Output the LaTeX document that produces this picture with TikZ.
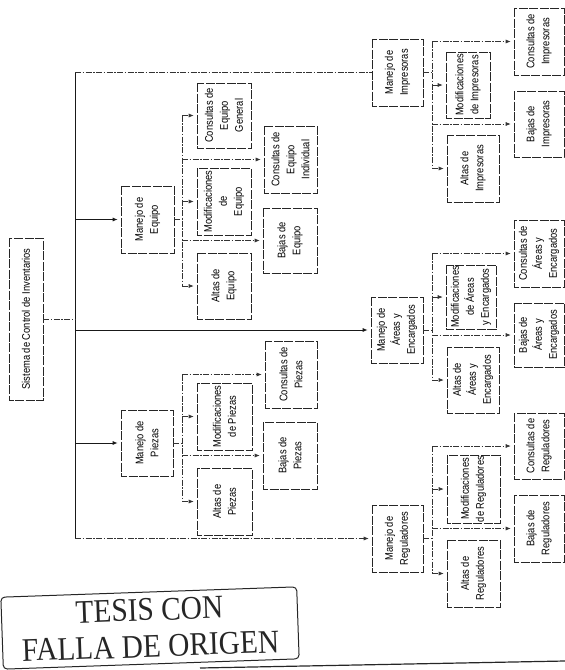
\documentclass[tikz,border=0pt]{standalone}
\usepackage{fontspec}
\usetikzlibrary{arrows.meta}
\newfontfamily\narrowsans[FakeStretch=0.85]{Liberation Sans}
\newfontfamily\stampserif[FakeStretch=0.89]{Liberation Serif}
\newcommand{\boxfont}{\narrowsans\fontsize{11}{15}\selectfont}
\newcommand{\stampfont}{\stampserif\fontsize{33}{36.5}\selectfont}

\begin{document}
\begin{tikzpicture}[x=1pt,y=-1pt,
  bx/.style={draw=black!85, rotate=90, align=center, inner sep=1pt,
    font=\boxfont, line width=0.6pt, dash pattern=on 9pt off 1.5pt},
  trunk/.style={draw=black!90, line width=0.9pt},
  link/.style={draw=black!80, line width=0.6pt,
    dash pattern=on 6pt off 1.5pt on 1.5pt off 1.5pt},
  arr/.style={-{Latex[length=5pt,width=4pt]}, shorten >=3pt},
  stampbox/.style={draw=black!85, line width=1pt, rounded corners=4pt, rotate=2,
    font=\stampfont, align=center, text=black!85},
]
\useasboundingbox (0,0) rectangle (565,670);

% root
\node[bx, minimum width=162pt, minimum height=34pt] (root) at (26,319) {Sistema de Control de Inventarios};

% Manejo de Equipo
\node[bx, minimum width=67pt, minimum height=53pt] (meq) at (147.5,219.5) {Manejo de\\Equipo};
\node[bx, minimum width=65pt, minimum height=54pt] (ceg) at (224,115.5) {Consultas de\\Equipo\\General};
\node[bx, minimum width=67pt, minimum height=54pt] (mdeq) at (224,201.5) {Modificaciones\\de\\Equipo};
\node[bx, minimum width=66pt, minimum height=54pt] (aeq) at (224,286) {Altas de\\Equipo};
\node[bx, minimum width=67pt, minimum height=53pt] (cei) at (290.5,159.5) {Consultas de\\Equipo\\Individual};
\node[bx, minimum width=65pt, minimum height=54pt] (beq) at (290,240.5) {Bajas de\\Equipo};

% Manejo de Piezas
\node[bx, minimum width=66pt, minimum height=52pt] (mpz) at (147,443) {Manejo de\\Piezas};
\node[bx, minimum width=67pt, minimum height=52pt] (cpz) at (291,374.5) {Consultas de\\Piezas};
\node[bx, minimum width=67pt, minimum height=55pt] (mdpz) at (224.5,416.5) {Modificaciones\\de Piezas};
\node[bx, minimum width=67pt, minimum height=54pt] (bpz) at (290,455.5) {Bajas de\\Piezas};
\node[bx, minimum width=67pt, minimum height=55pt] (apz) at (224.5,501.5) {Altas de\\Piezas};

% Manejo de Impresoras
\node[bx, minimum width=67pt, minimum height=51pt] (mim) at (397.5,72.5) {Manejo de\\Impresoras};
\node[bx, minimum width=67pt, minimum height=50pt] (cim) at (539,41.5) {Consultas de\\Impresoras};
\node[bx, minimum width=66pt, minimum height=44pt] (mdim) at (468,85) {Modificaciones\\de Impresoras};
\node[bx, minimum width=66pt, minimum height=50pt] (bim) at (539,124) {Bajas de\\Impresoras};
\node[bx, minimum width=67pt, minimum height=52pt] (aim) at (473,168.5) {Altas de\\Impresoras};

% Manejo de Areas y Encargados
\node[bx, minimum width=66pt, minimum height=52pt] (mar) at (397,330) {Manejo de\\Áreas y\\Encargados};
\node[bx, minimum width=67pt, minimum height=50pt] (car) at (539,253.5) {Consultas de\\Áreas y\\Encargados};
\node[bx, minimum width=64pt, minimum height=50pt] (mdar) at (471,297) {Modificaciones\\de Áreas\\y Encargados};
\node[bx, minimum width=64pt, minimum height=50pt] (bar) at (539,335) {Bajas de\\Áreas y\\Encargados};
\node[bx, minimum width=66pt, minimum height=52pt] (aar) at (473,380) {Altas de\\Áreas y\\Encargados};

% Manejo de Reguladores
\node[bx, minimum width=67pt, minimum height=51pt] (mrg) at (397.5,538.5) {Manejo de\\Reguladores};
\node[bx, minimum width=66pt, minimum height=50pt] (crg) at (539,446) {Consultas de\\Reguladores};
\node[bx, minimum width=68pt, minimum height=53pt] (mdrg) at (473.5,489) {Modificaciones\\de Reguladores};
\node[bx, minimum width=67pt, minimum height=50pt] (brg) at (539,528.5) {Bajas de\\Reguladores};
\node[bx, minimum width=67pt, minimum height=53pt] (arg) at (473.5,573.5) {Altas de\\Reguladores};

% trunk from the root to the five modules
\coordinate (ttop) at (75,72.5);
\coordinate (tbot) at (75,538.5);
\draw[trunk] (ttop) -- (tbot);
\draw[link] (root.south) -- (root.south -| ttop);
\draw[link] (ttop) -- (mim.north);
\draw[trunk, arr] (ttop |- meq) -- (meq.north);
\draw[trunk, arr] (ttop |- mar) -- (mar.north);
\draw[trunk, arr] (ttop |- mpz) -- (mpz.north);
\draw[link, arr] (tbot) -- (mrg.north);

% Equipo branch
\coordinate (eqa) at (182,115.5);
\coordinate (eqb) at (182,286);
\draw[link] (eqa) -- (eqb);
\draw[link] (meq.south) -- (meq.south -| eqa);
\draw[link, arr] (eqa) -- (ceg.north);
\draw[link, arr] (eqa |- mdeq) -- (mdeq.north);
\draw[link, arr] (eqb) -- (aeq.north);
\draw[link, arr] (eqa |- cei) -- (cei.north);
\draw[link, arr] (eqa |- beq) -- (beq.north);

% Piezas branch
\coordinate (pza) at (182,374.5);
\coordinate (pzb) at (182,501.5);
\draw[link] (pza) -- (pzb);
\draw[link] (mpz.south) -- (mpz.south -| pza);
\draw[link, arr] (pza) -- (cpz.north);
\draw[link, arr] (pza |- mdpz) -- (mdpz.north);
\draw[link, arr] (pza |- bpz) -- (bpz.north);
\draw[link, arr] (pzb) -- (apz.north);

% Impresoras branch
\coordinate (ima) at (432,41.5);
\coordinate (imb) at (432,168.5);
\draw[link] (ima) -- (imb);
\draw[link] (mim.south) -- (mim.south -| ima);
\draw[link, arr] (ima) -- (cim.north);
\draw[link, arr] (ima |- mdim) -- (mdim.north);
\draw[link, arr] (ima |- bim) -- (bim.north);
\draw[link, arr] (imb) -- (aim.north);

% Areas branch
\coordinate (ara) at (432,253.5);
\coordinate (arb) at (432,380);
\draw[link] (ara) -- (arb);
\draw[link] (mar.south) -- (mar.south -| ara);
\draw[link, arr] (ara) -- (car.north);
\draw[link, arr] (ara |- mdar) -- (mdar.north);
\draw[link, arr] (ara |- bar) -- (bar.north);
\draw[link, arr] (arb) -- (aar.north);

% Reguladores branch
\coordinate (rga) at (432,446);
\coordinate (rgb) at (432,573.5);
\draw[link] (rga) -- (rgb);
\draw[link] (mrg.south) -- (mrg.south -| rga);
\draw[link, arr] (rga) -- (crg.north);
\draw[link, arr] (rga |- mdrg) -- (mdrg.north);
\draw[link, arr] (rga |- brg) -- (brg.north);
\draw[link, arr] (rgb) -- (arg.north);

% stamp
\node[stampbox, minimum width=296pt, minimum height=72pt] (tesis) at (150,628) {TESIS CON\\FALLA DE ORIGEN};

% page rule
\coordinate (ft1) at (200,668);
\coordinate (ft2) at (565,661);
\draw[line width=1.2pt, black!85] (ft1) -- (ft2);
\end{tikzpicture}
\end{document}
